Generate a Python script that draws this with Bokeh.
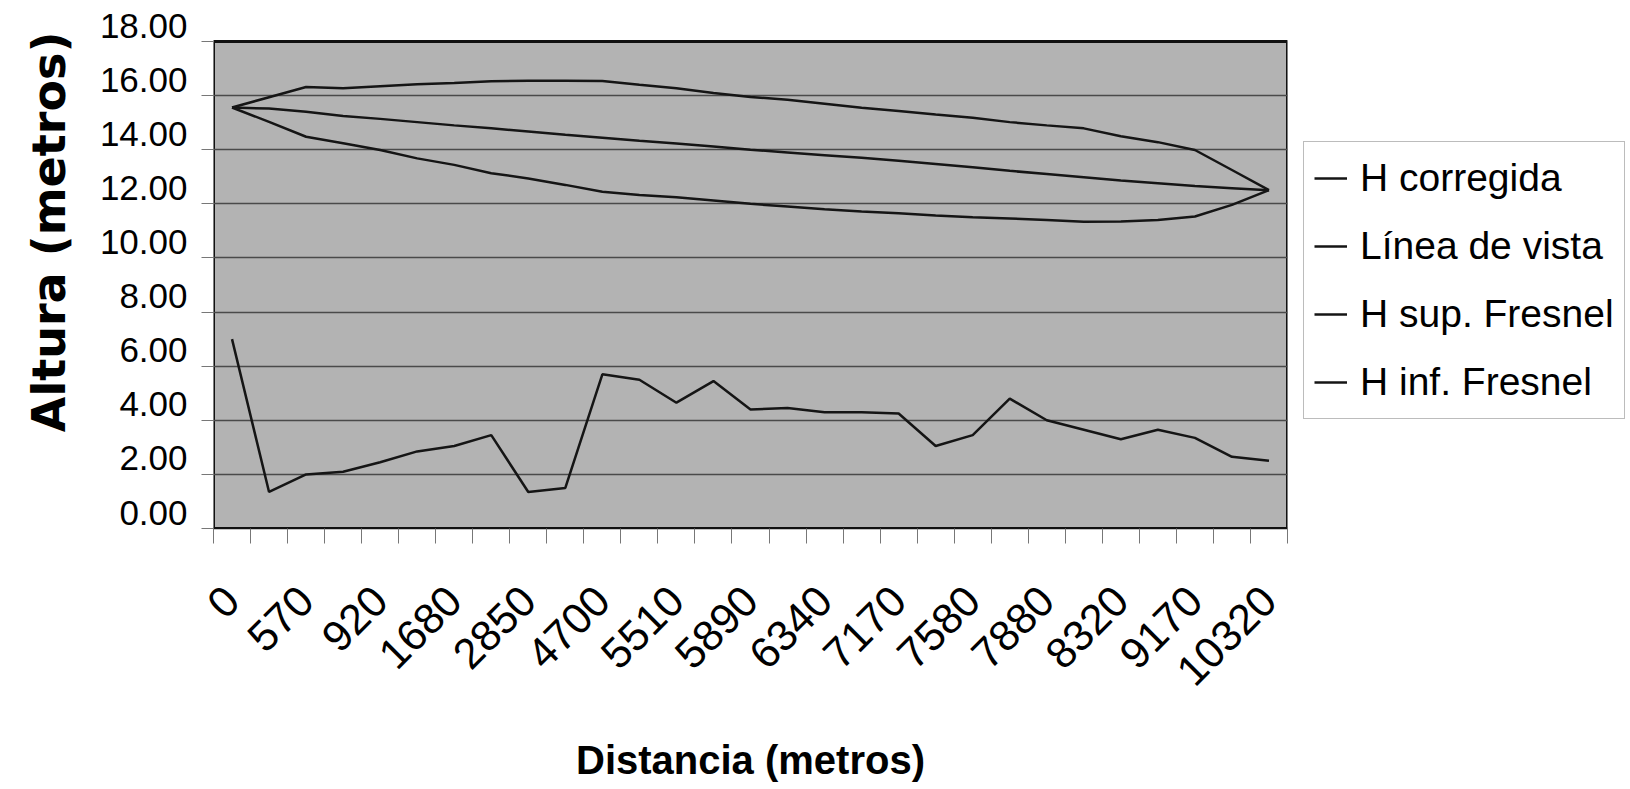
import math
from bokeh.plotting import figure
from bokeh.models import (ColumnDataSource, FixedTicker, Legend, LegendItem, Title, Range1d)
from bokeh.embed import file_html
from bokeh.resources import INLINE

# ---------------- data ----------------
distancia = [0, 280, 570, 740, 920, 1300, 1680, 2270, 2850, 3780, 4700, 5100, 5510,
             5700, 5890, 6110, 6340, 6760, 7170, 7380, 7580, 7730, 7880, 8100, 8320,
             8750, 9170, 9750, 10320]

h_corregida = [7.00, 1.35, 2.00, 2.10, 2.45, 2.85, 3.05, 3.45, 1.35, 1.50, 5.70, 5.50,
               4.65, 5.45, 4.40, 4.45, 4.30, 4.30, 4.25, 3.05, 3.45, 4.80, 4.00, 3.65,
               3.30, 3.65, 3.35, 2.65, 2.50]

linea_vista = [15.56, 15.52, 15.40, 15.25, 15.14, 15.02, 14.90, 14.79, 14.67, 14.55,
               14.44, 14.33, 14.23, 14.12, 14.00, 13.90, 13.80, 13.70, 13.59, 13.47,
               13.35, 13.22, 13.10, 12.98, 12.86, 12.76, 12.66, 12.58, 12.50]

h_sup_fresnel = [15.56, 15.94, 16.32, 16.27, 16.35, 16.42, 16.47, 16.53, 16.55, 16.55,
                 16.54, 16.40, 16.27, 16.10, 15.95, 15.85, 15.70, 15.55, 15.43, 15.30,
                 15.18, 15.02, 14.90, 14.79, 14.50, 14.28, 13.99, 13.25, 12.51]

h_inf_fresnel = [15.56, 15.03, 14.48, 14.24, 13.99, 13.68, 13.44, 13.13, 12.94, 12.70,
                 12.45, 12.33, 12.24, 12.12, 12.00, 11.90, 11.80, 11.72, 11.65, 11.57,
                 11.50, 11.46, 11.40, 11.34, 11.35, 11.40, 11.53, 11.96, 12.51]

series_names = ["H corregida", "Línea de vista", "H sup. Fresnel", "H inf. Fresnel"]
y_ticks = [0, 2, 4, 6, 8, 10, 12, 14, 16, 18]
y_title = "Altura (metros)"
x_title = "Distancia (metros)"

# ---------------- layout constants ----------------
PLOT_H = 487            # pixel height of the 0..18 plot area
LABEL_SHIFT_PX = 16     # y tick labels sit this far above their gridlines
px_per_unit = PLOT_H / (y_ticks[-1] - y_ticks[0])
off = LABEL_SHIFT_PX / px_per_unit

idx = list(range(len(distancia)))
labelled = idx[::2]
x_lo, x_hi = -0.5, len(distancia) - 0.5

source = ColumnDataSource(dict(i=idx, hc=h_corregida, lv=linea_vista,
                               hs=h_sup_fresnel, hi=h_inf_fresnel))

p = figure(frame_width=1074, frame_height=PLOT_H + LABEL_SHIFT_PX,
           min_border_left=213, min_border_right=338,
           min_border_top=41 - LABEL_SHIFT_PX, min_border_bottom=260,
           x_range=Range1d(x_lo, x_hi), y_range=Range1d(y_ticks[0], y_ticks[-1] + off),
           output_backend="svg", toolbar_location=None, title=None)

p.background_fill_color = "white"
p.border_fill_color = "white"
p.outline_line_color = None

# grey plot area with black border (0..18)
p.quad(left=[x_lo], right=[x_hi], bottom=[y_ticks[0]], top=[y_ticks[-1]],
       fill_color="#b3b3b3", line_color="#111111", line_width=3, level="image")

# grid
p.xgrid.visible = False
p.ygrid.ticker = FixedTicker(ticks=y_ticks[1:-1])
p.ygrid.grid_line_color = "#4a4a4a"
p.ygrid.grid_line_width = 1.6

# y axis (labels raised above their ticks, as in the reference)
ya = p.yaxis[0]
ya.ticker = FixedTicker(ticks=[t + off for t in y_ticks], minor_ticks=y_ticks)
ya.major_label_overrides = {t + off: "%.2f" % t for t in y_ticks}
ya.axis_line_color = None
ya.major_tick_out = 0
ya.major_tick_in = 0
ya.minor_tick_out = 12
ya.minor_tick_in = 0
ya.minor_tick_line_color = "#777777"
ya.major_label_standoff = 14
ya.major_label_text_font = "Liberation Sans"
ya.major_label_text_font_size = "35px"
ya.major_label_text_color = "black"

# x axis
xa = p.xaxis[0]
xa.ticker = FixedTicker(ticks=labelled, minor_ticks=[i - 0.5 for i in range(len(distancia) + 1)])
xa.major_label_overrides = {i: str(distancia[i]) for i in labelled}
xa.axis_line_color = "#111111"
xa.axis_line_width = 1.5
xa.major_tick_out = 0
xa.major_tick_in = 0
xa.minor_tick_out = 15
xa.minor_tick_in = 0
xa.minor_tick_line_color = "#777777"
xa.major_label_orientation = math.pi / 4
xa.major_label_standoff = 50
xa.major_label_text_font = "Liberation Sans"
xa.major_label_text_font_size = "43px"
xa.major_label_text_color = "black"
xa.axis_label = x_title
xa.axis_label_text_font = "Liberation Sans"
xa.axis_label_text_font_style = "bold"
xa.axis_label_text_font_size = "40px"
xa.axis_label_text_color = "black"
xa.axis_label_standoff = 36

# lines
cols = ["hc", "lv", "hs", "hi"]
renderers = []
for c in cols:
    r = p.line(x="i", y=c, source=source, line_color="#151515", line_width=2.5)
    renderers.append(r)

legend = Legend(items=[LegendItem(label=n, renderers=[r]) for n, r in zip(series_names, renderers)],
                location=(16, 109))
legend.label_text_font = "Liberation Sans"
legend.label_text_font_size = "39px"
legend.label_text_color = "black"
legend.label_height = 52
legend.glyph_height = 52
legend.glyph_width = 33
legend.label_standoff = 13
legend.spacing = 16
legend.padding = 10
legend.margin = 8
legend.border_line_color = "#7a7a7a"
legend.border_line_width = 1
legend.background_fill_color = "white"
legend.background_fill_alpha = 1
p.add_layout(legend, "right")

# y axis title
yt = Title(text=y_title, align="right", vertical_align="top", offset=6, standoff=38,
           text_font="DejaVu Sans", text_font_style="bold",
           text_font_size="46px", text_color="black")
p.add_layout(yt, "left")

open("out.html", "w").write(file_html(p, INLINE))
